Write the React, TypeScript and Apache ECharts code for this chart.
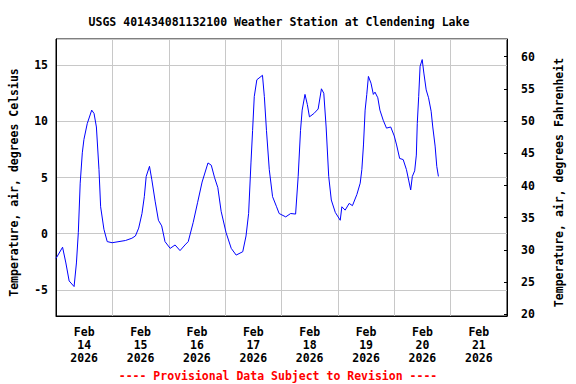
import React, { useEffect, useRef } from "react";
import * as echarts from "echarts";

// Hours since 2026-02-14 00:00 (local station time)
const hours: number[] = [
  0, 2.8, 4.2, 5.6, 7.7, 8.7, 9.5, 10.3, 11.2, 11.9, 13.3, 15.2, 16.2, 17.2, 18.3, 19.0, 20.4, 21.8, 23.9,
  29.6, 32.3, 33.8, 35.2, 36.6, 37.6, 38.4, 39.8, 40.8, 42.2, 43.6, 45.0, 46.4, 48.6, 50.7, 52.8, 54.9, 56.3,
  58.4, 60.3, 62.2, 64.7, 66.1, 67.5, 68.9, 70.3, 72.4, 74.6, 76.7, 79.5, 80.9, 82.0, 83.0, 83.7, 84.4, 85.5,
  87.9, 88.7, 89.6, 90.8, 92.2, 93.9, 95.0, 97.8, 99.9, 102.0, 103.1, 104.1, 104.8, 106.0, 107.0, 107.9, 109.8,
  111.6, 113.0, 114.0, 115.0, 116.1, 117.2, 118.9, 121.0, 121.7, 123.1, 124.8, 126.2, 128.1, 129.5, 130.2,
  130.9, 131.6, 132.3, 133.0, 134.1, 135.1, 135.8, 137.0, 137.9, 139.3, 140.7, 142.5, 144.0, 145.0, 146.3,
  147.8, 149.2, 150.2, 151.0, 151.7, 152.7, 153.4, 153.8, 154.4, 155.0, 155.9, 156.6, 157.6, 158.6, 159.7,
  160.4, 161.4, 162.1, 162.8,
];

// Air temperature, degrees Celsius
const tempC: number[] = [
  -2.2, -1.2, -2.6, -4.2, -4.7, -2.6, 0.1, 4.5, 7.2, 8.4, 9.8, 11.0, 10.7, 9.5, 5.7, 2.4, 0.4, -0.7, -0.8,
  -0.6, -0.4, -0.2, 0.5, 1.8, 3.3, 5.1, 6.0, 4.8, 2.9, 1.2, 0.7, -0.7, -1.3, -1.0, -1.5, -1.0, -0.7,
  1.0, 2.8, 4.6, 6.3, 6.1, 5.0, 4.1, 2.0, 0.1, -1.3, -1.9, -1.6, -0.2, 1.8, 6.3, 9.2, 12.2, 13.7,
  14.1, 12.2, 9.2, 5.7, 3.3, 2.4, 1.8, 1.5, 1.8, 1.75, 5.1, 9.2, 11.0, 12.4, 11.5, 10.4, 10.7,
  11.1, 12.9, 12.5, 9.5, 5.1, 3.0, 1.9, 1.2, 2.4, 2.1, 2.7, 2.5, 3.5, 4.5, 5.7,
  7.9, 11.0, 12.4, 14.0, 13.4, 12.4, 12.6, 12.1, 11.0, 10.1, 9.4, 9.5, 8.7, 7.9, 6.7,
  6.6, 5.7, 4.7, 3.9, 5.1, 5.6, 7.0, 9.8, 12.2, 14.9, 15.5, 14.3, 12.8, 12.1, 10.9,
  9.5, 7.8, 6.0, 5.1,
];

const celsiusTicks: number[] = [-5, 0, 5, 10, 15];
const fahrenheitTicks: number[] = [20, 25, 30, 35, 40, 45, 50, 55, 60];
const dayLabelHours: number[] = [12, 36, 60, 84, 108, 132, 156, 180];
const monthNames: string[] = ["Jan", "Feb", "Mar", "Apr", "May", "Jun", "Jul", "Aug", "Sep", "Oct", "Nov", "Dec"];

const TITLE = "USGS 401434081132100 Weather Station at Clendening Lake";
const FOOTER = "---- Provisional Data Subject to Revision ----";
const START_UTC = Date.UTC(2026, 1, 14);

const FONT = "'DejaVu Sans Mono', 'Liberation Mono', monospace";

export default function App() {
  const ref = useRef<HTMLDivElement>(null);

  useEffect(() => {
    if (!ref.current) return;
    const chart = echarts.init(ref.current, undefined, { renderer: "svg" });
    const data = hours.map((h, i) => [h, tempC[i]]);
    const baseText = { fontFamily: FONT, fontWeight: "bold" as const, fontSize: 11.5, color: "#000" };

    chart.setOption({
      animation: false,
      backgroundColor: "#fff",
      textStyle: baseText,
      grid: {
        left: 51,
        right: 69,
        top: 39,
        bottom: 68,
        show: true,
        borderColor: "#000",
        borderWidth: 1,
        backgroundColor: "transparent",
      },
      graphic: [
        {
          type: "text",
          x: 279,
          y: 22,
          style: {
            text: TITLE,
            fill: "#000",
            font: `bold 11.5px ${FONT}`,
            align: "center",
            verticalAlign: "middle",
          },
        },
        {
          type: "text",
          x: 278,
          y: 376,
          style: {
            text: FOOTER,
            fill: "#ff0000",
            font: `bold 11.5px ${FONT}`,
            align: "center",
            verticalAlign: "middle",
          },
        },
      ],
      xAxis: {
        type: "value",
        min: 0,
        max: 192,
        interval: 24,
        axisLine: { show: true, onZero: false, lineStyle: { color: "#000", width: 1 } },
        axisTick: { show: false },
        splitLine: { show: true, lineStyle: { color: "#c8c8c8", width: 1 } },
        axisLabel: {
          customValues: dayLabelHours,
          margin: 9,
          lineHeight: 13.3,
          ...baseText,
          formatter: (v: number) => {
            const d = new Date(START_UTC + v * 3600 * 1000);
            return `${monthNames[d.getUTCMonth()]}\n${d.getUTCDate()}\n${d.getUTCFullYear()}`;
          },
        },
      },
      yAxis: [
        {
          type: "value",
          position: "left",
          min: -7.32,
          max: 17.33,
          splitNumber: 5,
          name: "Temperature, air, degrees Celsius",
          nameLocation: "middle",
          nameRotate: 90,
          nameGap: 36,
          nameTextStyle: { ...baseText, padding: [0, 10, 0, 0] },
          axisLine: { show: true, onZero: false, lineStyle: { color: "#000", width: 1 } },
          axisTick: { show: false },
          splitLine: { show: true, lineStyle: { color: "#c8c8c8", width: 1 } },
          axisLabel: { customValues: celsiusTicks, margin: 8, ...baseText },
        },
        {
          type: "value",
          position: "right",
          min: 19.75,
          max: 62.74,
          name: "Temperature, air, degrees Fahrenheit",
          nameLocation: "middle",
          nameRotate: 90,
          nameGap: 46,
          nameTextStyle: { ...baseText, padding: [0, 10, 0, 0] },
          axisLine: { show: true, onZero: false, lineStyle: { color: "#000", width: 1 } },
          axisTick: { show: true, inside: true, length: 3, customValues: fahrenheitTicks, lineStyle: { color: "#000" } },
          splitLine: { show: false },
          axisLabel: { customValues: fahrenheitTicks, margin: 14, ...baseText },
        },
      ],
      series: [
        {
          type: "line",
          data,
          xAxisIndex: 0,
          yAxisIndex: 0,
          showSymbol: false,
          lineStyle: { color: "#0000ff", width: 1 },
          itemStyle: { color: "#0000ff" },
        },
      ],
    });

    return () => chart.dispose();
  }, []);

  return (
    <div
      ref={ref}
      style={{ position: "fixed", left: 0, top: 0, width: 576, height: 384, background: "#fff" }}
    />
  );
}
